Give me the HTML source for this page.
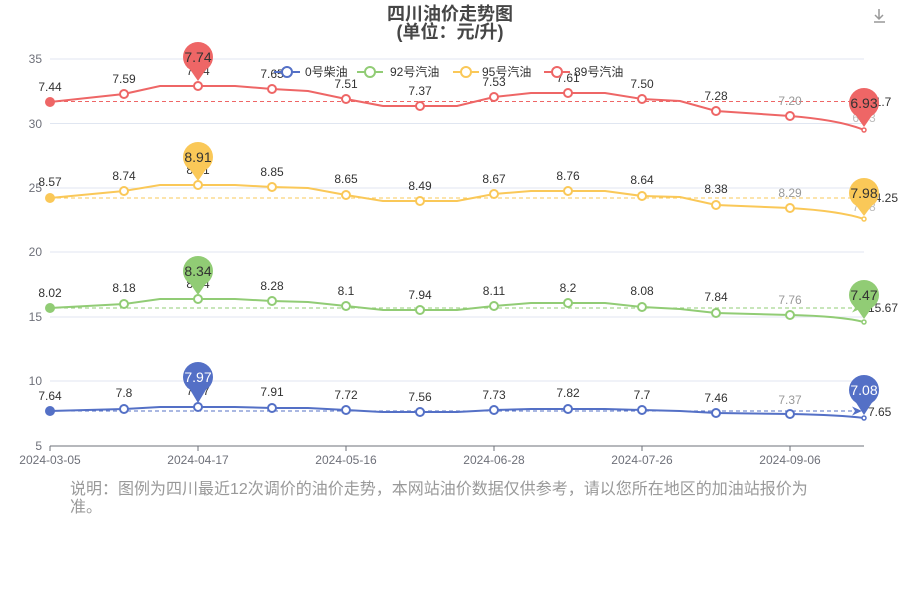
<!DOCTYPE html>
<html><head><meta charset="utf-8"><style>
body{margin:0;background:#fff}
svg text{font-family:"Liberation Sans","Noto Sans CJK SC",sans-serif}
</style></head><body>
<svg width="900" height="600" viewBox="0 0 900 600" xmlns="http://www.w3.org/2000/svg">
<text x="450" y="20" text-anchor="middle" font-size="18" font-weight="bold" fill="#464646">四川油价走势图</text>
<text x="450" y="38" text-anchor="middle" font-size="18" font-weight="bold" fill="#464646">(单位：元/升)</text>
<g stroke="#999" fill="none" stroke-width="1.5"><path d="M879 9v10M875 15l4 4 4-4M874 22h11"/></g>
<g stroke="#e0e6f1" stroke-width="1">
<line x1="50" y1="59" x2="864" y2="59"/><line x1="50" y1="123.5" x2="864" y2="123.5"/><line x1="50" y1="188" x2="864" y2="188"/><line x1="50" y1="252" x2="864" y2="252"/><line x1="50" y1="317" x2="864" y2="317"/><line x1="50" y1="381" x2="864" y2="381"/>
</g>
<line x1="50" y1="446" x2="864" y2="446" stroke="#6e7079"/>
<g stroke="#6e7079"><line x1="50" y1="446" x2="50" y2="451"/><line x1="198" y1="446" x2="198" y2="451"/><line x1="346" y1="446" x2="346" y2="451"/><line x1="494" y1="446" x2="494" y2="451"/><line x1="642" y1="446" x2="642" y2="451"/><line x1="790" y1="446" x2="790" y2="451"/></g>
<g font-size="12" fill="#6e7079" text-anchor="end">
<text x="42" y="63">35</text><text x="42" y="128">30</text><text x="42" y="192">25</text><text x="42" y="256">20</text><text x="42" y="321">15</text><text x="42" y="385">10</text><text x="42" y="450">5</text>
</g>
<g font-size="12" fill="#6e7079" text-anchor="middle">
<text x="50" y="464">2024-03-05</text><text x="198" y="464">2024-04-17</text><text x="346" y="464">2024-05-16</text><text x="494" y="464">2024-06-28</text><text x="642" y="464">2024-07-26</text><text x="790" y="464">2024-09-06</text>
</g>
<text x="70" y="494" font-size="16" fill="#999">说明：图例为四川最近12次调价的油价走势，本网站油价数据仅供参考，请以您所在地区的加油站报价为</text>
<text x="70" y="512" font-size="16" fill="#999">准。</text>

<g stroke-dasharray="4,3" stroke-width="1" fill="none" stroke-opacity="1">
<line x1="50" y1="101.5" x2="858" y2="101.5" stroke="#ee6666"/>
<line x1="50" y1="198" x2="858" y2="198" stroke="#fac858"/>
<line x1="50" y1="308" x2="858" y2="308" stroke="#91cc75"/>
<line x1="50" y1="411" x2="858" y2="411" stroke="#5470c6"/>
</g>
<path d="M852 97l10 4.5-10 4.5 3-4.5z" fill="#ee6666"/>
<path d="M852 193.5l10 4.5-10 4.5 3-4.5z" fill="#fac858"/>
<path d="M852 303.5l10 4.5-10 4.5 3-4.5z" fill="#91cc75"/>
<path d="M852 406.5l10 4.5-10 4.5 3-4.5z" fill="#5470c6"/>

<g fill="none" stroke-width="2">
<path stroke="#ee6666" d="M50 102L124 94L160 86L235 86L272 89L308 91L346 99L383 106L457 106L494 97L531 93L605 93L642 99L680 101L716 111L790 116Q840 120 864 130"/>
<path stroke="#fac858" d="M50 198L124 191L160 185L235 185L272 187L308 188L346 195L383 201L457 201L494 194L531 191L605 191L642 196L680 197L716 205L790 208Q840 211 864 219"/>
<path stroke="#91cc75" d="M50 308L124 304L160 299L235 299L272 301L308 302L346 306L383 310L457 310L494 306L531 303L605 303L642 307L680 309L716 313L790 315Q840 316 864 322"/>
<path stroke="#5470c6" d="M50 411L124 409L160 407L235 407L272 408L308 408L346 410L383 412L457 412L494 410L531 409L605 409L642 410L680 411L716 413L790 414Q840 415 864 418"/>
</g>
<g fill="#fff" stroke-width="2">
<g stroke="#ee6666"><circle cx="124" cy="94" r="4"/><circle cx="198" cy="86" r="4"/><circle cx="272" cy="89" r="4"/><circle cx="346" cy="99" r="4"/><circle cx="420" cy="106" r="4"/><circle cx="494" cy="97" r="4"/><circle cx="568" cy="93" r="4"/><circle cx="642" cy="99" r="4"/><circle cx="716" cy="111" r="4"/><circle cx="790" cy="116" r="4"/><circle cx="864" cy="130" r="2" stroke-width="1.5"/></g>
<g stroke="#fac858"><circle cx="124" cy="191" r="4"/><circle cx="198" cy="185" r="4"/><circle cx="272" cy="187" r="4"/><circle cx="346" cy="195" r="4"/><circle cx="420" cy="201" r="4"/><circle cx="494" cy="194" r="4"/><circle cx="568" cy="191" r="4"/><circle cx="642" cy="196" r="4"/><circle cx="716" cy="205" r="4"/><circle cx="790" cy="208" r="4"/><circle cx="864" cy="219" r="2" stroke-width="1.5"/></g>
<g stroke="#91cc75"><circle cx="124" cy="304" r="4"/><circle cx="198" cy="299" r="4"/><circle cx="272" cy="301" r="4"/><circle cx="346" cy="306" r="4"/><circle cx="420" cy="310" r="4"/><circle cx="494" cy="306" r="4"/><circle cx="568" cy="303" r="4"/><circle cx="642" cy="307" r="4"/><circle cx="716" cy="313" r="4"/><circle cx="790" cy="315" r="4"/><circle cx="864" cy="322" r="2" stroke-width="1.5"/></g>
<g stroke="#5470c6"><circle cx="124" cy="409" r="4"/><circle cx="198" cy="407" r="4"/><circle cx="272" cy="408" r="4"/><circle cx="346" cy="410" r="4"/><circle cx="420" cy="412" r="4"/><circle cx="494" cy="410" r="4"/><circle cx="568" cy="409" r="4"/><circle cx="642" cy="410" r="4"/><circle cx="716" cy="413" r="4"/><circle cx="790" cy="414" r="4"/><circle cx="864" cy="418" r="2" stroke-width="1.5"/></g>
</g>
<circle cx="50" cy="102" r="5" fill="#ee6666"/><circle cx="50" cy="198" r="5" fill="#fac858"/><circle cx="50" cy="308" r="5" fill="#91cc75"/><circle cx="50" cy="411" r="5" fill="#5470c6"/>

<g font-size="12" fill="#333" text-anchor="middle">
<text x="50" y="91">7.44</text><text x="124" y="83">7.59</text><text x="198" y="75">7.74</text><text x="272" y="78">7.65</text><text x="346" y="88">7.51</text><text x="420" y="95">7.37</text><text x="494" y="86">7.53</text><text x="568" y="82">7.61</text><text x="642" y="88">7.50</text><text x="716" y="100">7.28</text><text x="790" y="105" fill="#999">7.20</text><text x="864" y="122" fill="#bbb">6.93</text>
<text x="50" y="186">8.57</text><text x="124" y="180">8.74</text><text x="198" y="174">8.91</text><text x="272" y="176">8.85</text><text x="346" y="183">8.65</text><text x="420" y="190">8.49</text><text x="494" y="183">8.67</text><text x="568" y="180">8.76</text><text x="642" y="184">8.64</text><text x="716" y="193">8.38</text><text x="790" y="197" fill="#999">8.29</text><text x="864" y="211" fill="#bbb">7.98</text>
<text x="50" y="297">8.02</text><text x="124" y="292">8.18</text><text x="198" y="288">8.34</text><text x="272" y="290">8.28</text><text x="346" y="295">8.1</text><text x="420" y="299">7.94</text><text x="494" y="295">8.11</text><text x="568" y="292">8.2</text><text x="642" y="295">8.08</text><text x="716" y="301">7.84</text><text x="790" y="304" fill="#999">7.76</text>
<text x="50" y="400">7.64</text><text x="124" y="397">7.8</text><text x="198" y="395">7.97</text><text x="272" y="396">7.91</text><text x="346" y="399">7.72</text><text x="420" y="401">7.56</text><text x="494" y="399">7.73</text><text x="568" y="397">7.82</text><text x="642" y="399">7.7</text><text x="716" y="402">7.46</text><text x="790" y="404" fill="#999">7.37</text>
</g>
<g font-size="12" fill="#333">
<text x="868" y="106">31.7</text><text x="868" y="202">24.25</text><text x="868" y="312">15.67</text><text x="868" y="416">7.65</text>
</g>

<g>
<g fill="#ee6666"><circle cx="198" cy="57" r="15"/><path d="M189 68L198 81L207 68z"/><circle cx="864" cy="103" r="15"/><path d="M855 114L864 127L873 114z"/></g>
<g fill="#fac858"><circle cx="198" cy="157" r="15"/><path d="M189 168L198 181L207 168z"/><circle cx="864" cy="193" r="15"/><path d="M855 204L864 216L873 204z"/></g>
<g fill="#91cc75"><circle cx="198" cy="271" r="15"/><path d="M189 282L198 295L207 282z"/><circle cx="864" cy="295" r="15"/><path d="M855 306L864 319L873 306z"/></g>
<g fill="#5470c6"><circle cx="198" cy="377" r="15"/><path d="M189 388L198 403L207 388z"/><circle cx="864" cy="390" r="15"/><path d="M855 401L864 415L873 401z"/></g>
</g>
<g font-size="14" text-anchor="middle" fill="#333">
<text x="198" y="62">7.74</text><text x="864" y="108">6.93</text>
<text x="198" y="162">8.91</text><text x="864" y="198">7.98</text>
<text x="198" y="276">8.34</text><text x="864" y="300">7.47</text>
<text x="198" y="382" fill="#fff">7.97</text><text x="864" y="395" fill="#fff">7.08</text>
</g>

<g font-size="12" fill="#333" stroke-width="2">
<line x1="274" y1="72" x2="300" y2="72" stroke="#5470c6"/><circle cx="287" cy="72" r="5" fill="#fff" stroke="#5470c6"/><text x="305" y="76">0号柴油</text>
<line x1="357" y1="72" x2="383" y2="72" stroke="#91cc75"/><circle cx="370" cy="72" r="5" fill="#fff" stroke="#91cc75"/><text x="390" y="76">92号汽油</text>
<line x1="453" y1="72" x2="479" y2="72" stroke="#fac858"/><circle cx="466" cy="72" r="5" fill="#fff" stroke="#fac858"/><text x="482" y="76">95号汽油</text>
<line x1="544" y1="72" x2="570" y2="72" stroke="#ee6666"/><circle cx="557" cy="72" r="5" fill="#fff" stroke="#ee6666"/><text x="574" y="76">89号汽油</text>
</g>
</svg>
</body></html>
